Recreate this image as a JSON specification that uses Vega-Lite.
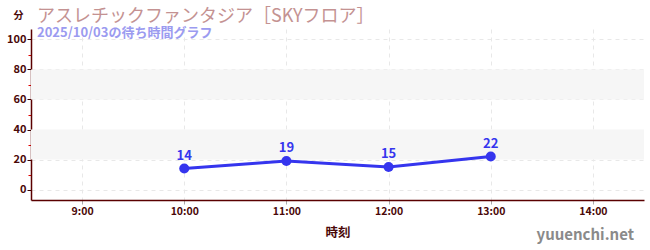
{
  "$schema": "https://vega.github.io/schema/vega-lite/v6.json",
  "width": 613,
  "height": 171,
  "autosize": {"type": "none"},
  "padding": {"left": 31, "top": 29, "right": 6, "bottom": 50},
  "background": "white",
  "config": {
    "view": {"stroke": null},
    "font": "Noto Sans CJK JP"
  },
  "title": {
    "text": "アスレチックファンタジア［SKYフロア］",
    "subtitle": "2025/10/03の待ち時間グラフ",
    "anchor": "start",
    "frame": "group",
    "dx": 6,
    "dy": 21,
    "offset": -9,
    "font": "Noto Sans CJK JP",
    "fontSize": 18,
    "fontWeight": "normal",
    "color": "#c49292",
    "subtitleFont": "Noto Sans CJK JP",
    "subtitleFontSize": 13,
    "subtitleFontWeight": "bold",
    "subtitleColor": "#9b9bf0",
    "subtitlePadding": 1
  },
  "resolve": {"axis": {"y": "independent"}},
  "layer": [
    {
      "data": {"values": [{"lo": 20, "hi": 40}, {"lo": 60, "hi": 80}]},
      "mark": {"type": "rect", "color": "#f6f6f6"},
      "encoding": {
        "y": {
          "field": "lo", "type": "quantitative",
          "scale": {"domain": [-7, 107], "nice": false, "zero": false},
          "axis": {
            "orient": "left",
            "values": [10, 30, 50, 70, 90],
            "labels": false, "domain": false, "grid": false,
            "tickColor": "#e00000", "tickSize": 3, "title": null
          }
        },
        "y2": {"field": "hi"}
      }
    },
    {
      "data": {"values": [
        {"hour": 10, "wait": 14},
        {"hour": 11, "wait": 19},
        {"hour": 12, "wait": 15},
        {"hour": 13, "wait": 22}
      ]},
      "encoding": {
        "x": {
          "field": "hour", "type": "quantitative",
          "scale": {"domain": [8.5, 14.5], "nice": false, "zero": false},
          "axis": {
            "values": [9, 10, 11, 12, 13, 14],
            "labelExpr": "datum.value + ':00'",
            "labelFontSize": 10.5,
            "labelColor": "#4a0808",
            "labelFontWeight": "bold",
            "domainColor": "#5a0000",
            "domainWidth": 1.5,
            "tickColor": "#aaaaaa",
            "tickSize": 4,
            "labelPadding": 2,
            "grid": true,
            "gridColor": "#e8e8e8",
            "gridDash": [4, 4],
            "title": "時刻",
            "titleFontSize": 12.5,
            "titleFontWeight": "bold",
            "titleColor": "#4a0808",
            "titlePadding": 10
          }
        },
        "y": {
          "field": "wait", "type": "quantitative",
          "scale": {"domain": [-7, 107], "nice": false, "zero": false},
          "axis": {
            "orient": "left",
            "values": [0, 20, 40, 60, 80, 100],
            "labelFontSize": 11,
            "labelColor": "#4a0808",
            "labelFontWeight": "bold",
            "labelPadding": 1,
            "domainColor": "#5a0000",
            "domainWidth": 1.5,
            "tickColor": "#3a0000",
            "tickSize": 4,
            "grid": true,
            "gridColor": "#e8e8e8",
            "gridDash": [4, 4],
            "title": "分",
            "titleAngle": 0,
            "titleX": -13,
            "titleY": -14,
            "titleAlign": "center",
            "titleBaseline": "middle",
            "titleFontSize": 10,
            "titleFontWeight": "bold",
            "titleColor": "#4a0808"
          }
        }
      },
      "layer": [
        {"mark": {"type": "line", "color": "#3535ee", "strokeWidth": 3}},
        {"mark": {"type": "point", "filled": true, "opacity": 1, "color": "#3535ee", "size": 100}},
        {
          "mark": {"type": "text", "color": "#3535ee", "fontSize": 13, "fontWeight": "bold", "baseline": "bottom", "dy": -6},
          "encoding": {"text": {"field": "wait", "type": "quantitative"}}
        }
      ]
    },
    {
      "data": {"values": [{"site": "yuuenchi.net"}]},
      "mark": {"type": "text", "align": "right", "baseline": "middle", "dx": -10, "dy": 35, "fontSize": 15, "fontWeight": "bold", "color": "#8a8a8a", "font": "Noto Sans CJK JP"},
      "encoding": {
        "x": {"datum": 14.5, "type": "quantitative"},
        "y": {"datum": -7, "type": "quantitative", "axis": null},
        "text": {"field": "site", "type": "nominal"}
      }
    }
  ]
}
